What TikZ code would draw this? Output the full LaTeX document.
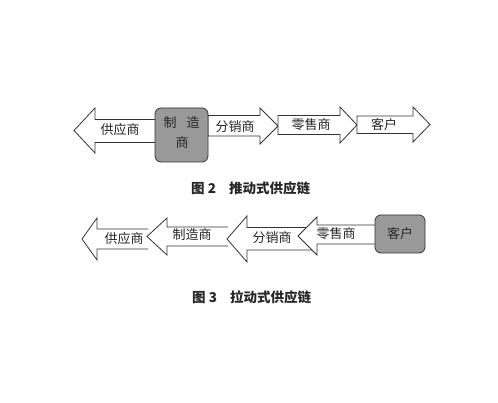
\documentclass[tikz,border=0pt]{standalone}
\usepackage{fontspec}
\setmainfont{Noto Sans CJK SC}
\begin{document}
\begin{tikzpicture}[x=1pt,y=-1pt,
  arr/.style={draw=black!80,fill=white,line width=0.8pt,line join=miter},
  gbox/.style={draw=black!80,fill=black!40,line width=0.8pt,rounded corners=6pt},
  lab/.style={font=\fontsize{13}{15}\selectfont,text=black!85,inner sep=0pt},
  captxt/.style={font=\fontsize{13.5}{16}\selectfont\bfseries,text=black!85,inner sep=0pt,anchor=west}]
\useasboundingbox[fill=white] (0,0) rectangle (498,403);
% ---------- Figure 2: push ----------
% left arrow (supplier)
\draw[arr] (156,119.5) -- (95,119.5) -- (95,108) -- (74,130.5) -- (95,153) -- (95,142.5) -- (156,142.5);
% right arrows
\draw[arr] (208,115.5) -- (260,115.5) -- (260,108) -- (278,126) -- (260,144) -- (260,136) -- (208,136) -- cycle;
\draw[arr] (278,115.5) -- (340,115.5) -- (340,107) -- (357,125) -- (340,143) -- (340,134.5) -- (278,134.5) -- cycle;
\draw[arr] (357,116) -- (413,116) -- (413,107) -- (430,124.5) -- (413,142) -- (413,133.5) -- (357,133.5) -- cycle;
% manufacturer box
\draw[gbox] (155,108) rectangle (208,162);
\node[lab] (s1) at (120,130) {供应商};
\node[lab] (m1a) at (170,123) {制};
\node[lab] (m1b) at (193,123) {造};
\node[lab] (m1c) at (182,143) {商};
\node[lab] (d1) at (235,126.5) {分销商};
\node[lab] (r1) at (311,125) {零售商};
\node[lab] (c1) at (384,124.5) {客户};
\node[captxt] (cap2) at (191,188) {图 2\hspace{13pt}推动式供应链};
% ---------- Figure 3: pull ----------
\draw[arr] (148,229) -- (97,229) -- (97,218) -- (82,239) -- (97,260) -- (97,249) -- (148,249);
\draw[arr] (228,227) -- (167,227) -- (167,218) -- (147,236.5) -- (167,255) -- (167,246) -- (228,246);
\draw[arr] (312,227.5) -- (247,227.5) -- (247,216) -- (227,239) -- (247,262) -- (247,250) -- (312,250);
\draw[arr] (376,225) -- (317,225) -- (317,217) -- (298,236) -- (317,255) -- (317,244) -- (376,244);
\draw[gbox] (375,215) rectangle (425,253);
\node[lab] (s2) at (124,239) {供应商};
\node[lab] (m2) at (192,235) {制造商};
\node[lab] (d2) at (272,238) {分销商};
\node[lab] (r2) at (336,233.5) {零售商};
\node[lab] (c2) at (400,234) {客户};
\node[captxt] (cap3) at (192,297) {图 3\hspace{13pt}拉动式供应链};
\end{tikzpicture}
\end{document}
